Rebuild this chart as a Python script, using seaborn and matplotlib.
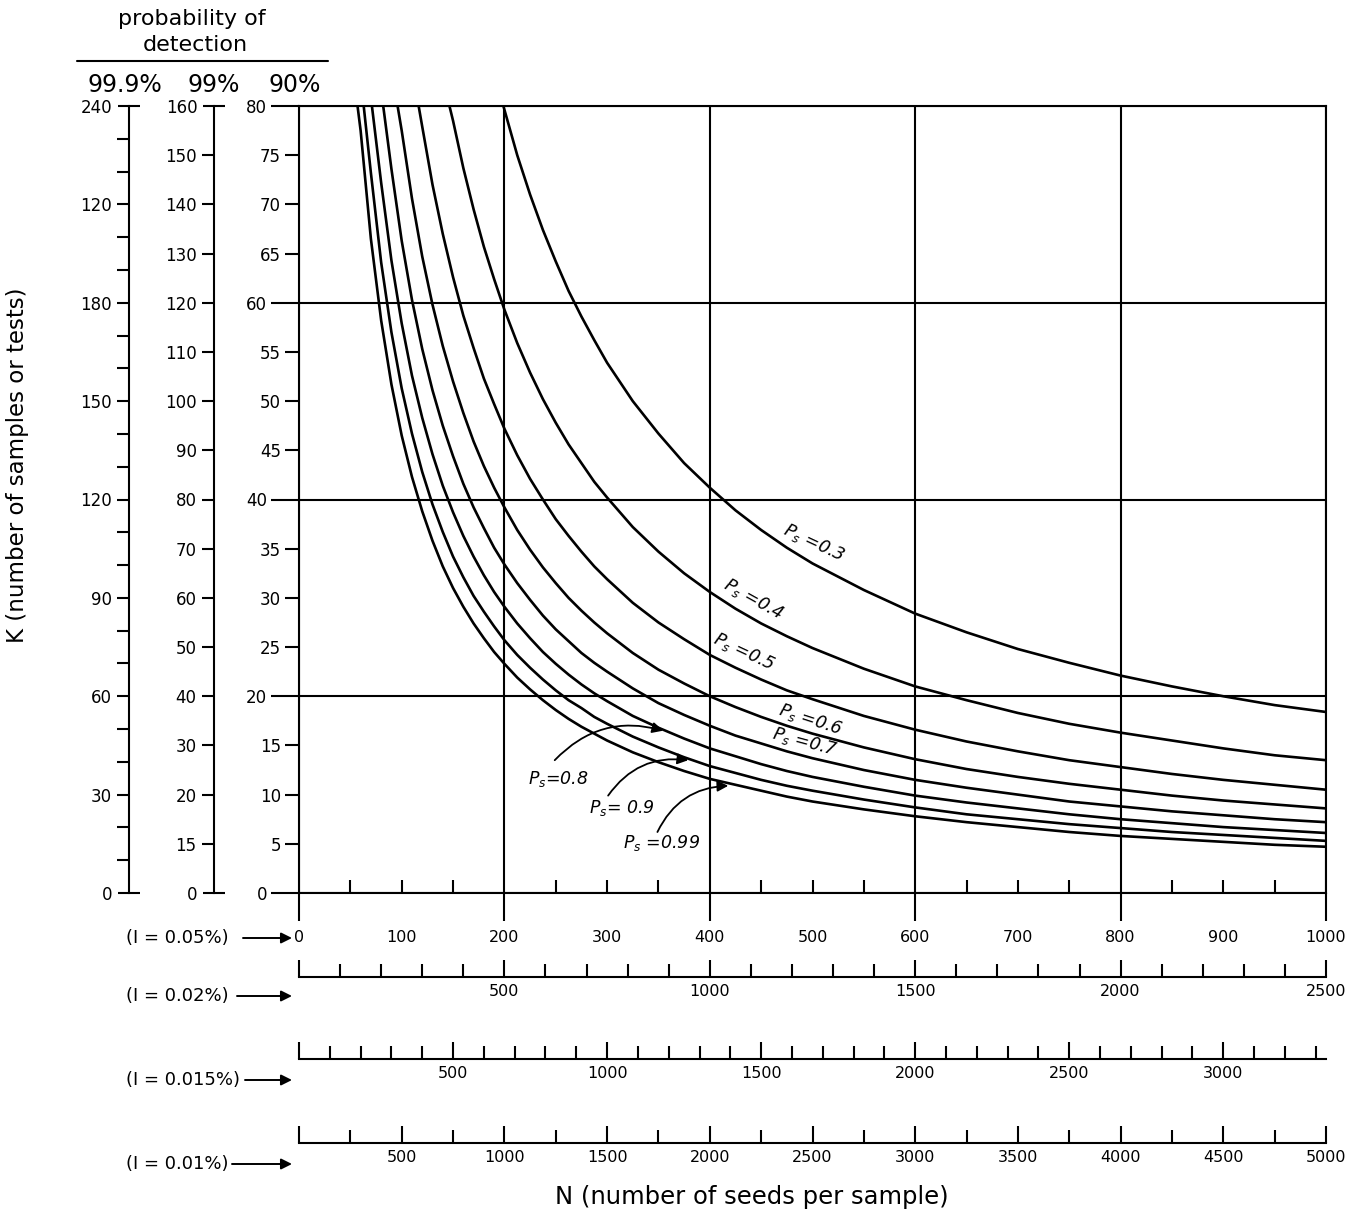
import numpy as np
import pandas as pd
import matplotlib
matplotlib.use("Agg")
import matplotlib.pyplot as plt
import seaborn as sns
from matplotlib.ticker import FixedLocator, FixedFormatter
from matplotlib.lines import Line2D
from matplotlib.patches import FancyArrowPatch

# ---------------- data ----------------
ps_labels = ["0.3", "0.4", "0.5", "0.6", "0.7", "0.8", "0.9", "0.99"]
n_grid = [60, 70, 80, 90, 100, 110, 120, 130, 140, 150, 160, 170, 180, 190, 200,
          212.5, 225, 237.5, 250, 262.5, 275, 287.5, 300, 325, 350, 375, 400,
          425, 450, 475, 500, 550, 600, 650, 700, 750, 800, 850, 900, 950, 1000]
# N where each curve enters the top of the chart (K = 80)
n_top = [199, 146.5, 116.5, 96, 82, 71, 63, 57]
k_top = 80
nan = np.nan
k_ps030 = [nan] * 15 + [75.0, 71.0, 67.4, 64.2, 61.2, 58.6, 56.2, 53.9, 50.0, 46.7, 43.7, 41.2,
                        38.9, 36.9, 35.1, 33.5, 30.8, 28.4, 26.5, 24.8, 23.4, 22.1, 21.0, 20.0, 19.1, 18.4]
k_ps040 = [nan] * 9 + [78.5, 73.7, 69.5, 65.7, 62.4, 59.3, 55.9, 52.9, 50.2, 47.8, 45.6, 43.7, 41.8,
                       40.2, 37.2, 34.7, 32.5, 30.6, 28.9, 27.4, 26.1, 24.9, 22.8, 21.0, 19.6, 18.3,
                       17.2, 16.3, 15.5, 14.7, 14.0, 13.5]
k_ps050 = [nan] * 6 + [77.9, 72.0, 67.0, 62.6, 58.7, 55.4, 52.3, 49.7, 47.2, 44.5, 42.1, 40.0, 38.0,
                       36.3, 34.7, 33.2, 31.9, 29.5, 27.5, 25.8, 24.2, 22.9, 21.7, 20.6, 19.7, 18.0,
                       16.6, 15.4, 14.4, 13.5, 12.8, 12.1, 11.5, 11.0, 10.5]
k_ps060 = [nan] * 4 + [77.5, 70.6, 64.7, 59.8, 55.6, 52.0, 48.8, 45.9, 43.4, 41.2, 39.2, 36.9, 34.9,
                       33.1, 31.5, 30.0, 28.7, 27.5, 26.4, 24.4, 22.7, 21.3, 20.0, 18.9, 17.9, 17.0,
                       16.2, 14.8, 13.6, 12.6, 11.8, 11.1, 10.5, 9.9, 9.4, 9.0, 8.6]
k_ps070 = [nan] * 3 + [73.6, 66.3, 60.3, 55.3, 51.1, 47.5, 44.4, 41.6, 39.2, 37.1, 35.1, 33.4, 31.5,
                       29.8, 28.2, 26.8, 25.6, 24.4, 23.4, 22.5, 20.8, 19.3, 18.1, 17.0, 16.0, 15.2,
                       14.4, 13.7, 12.5, 11.5, 10.7, 10.0, 9.3, 8.8, 8.3, 7.9, 7.5, 7.2]
k_ps080 = [nan] * 2 + [72.2, 64.3, 57.9, 52.6, 48.3, 44.6, 41.4, 38.7, 36.3, 34.2, 32.3, 30.6, 29.1,
                       27.4, 25.9, 24.5, 23.3, 22.2, 21.2, 20.3, 19.5, 18.0, 16.8, 15.7, 14.7, 13.9,
                       13.1, 12.4, 11.8, 10.8, 9.9, 9.2, 8.6, 8.0, 7.5, 7.1, 6.7, 6.4, 6.1]
k_ps090 = [nan] * 1 + [73.2, 64.1, 57.0, 51.3, 46.7, 42.8, 39.5, 36.7, 34.2, 32.1, 30.2, 28.6, 27.1,
                       25.7, 24.2, 22.9, 21.7, 20.6, 19.6, 18.8, 17.9, 17.2, 15.9, 14.8, 13.8, 12.9,
                       12.2, 11.5, 10.9, 10.4, 9.5, 8.7, 8.0, 7.5, 7.0, 6.6, 6.2, 5.9, 5.6, 5.3]
k_ps099 = [77.5, 66.5, 58.2, 51.7, 46.5, 42.3, 38.8, 35.8, 33.2, 31.0, 29.1, 27.4, 25.9, 24.5, 23.3,
           21.9, 20.7, 19.6, 18.6, 17.7, 16.9, 16.2, 15.5, 14.3, 13.3, 12.4, 11.6, 11.0, 10.4, 9.8,
           9.3, 8.5, 7.8, 7.2, 6.7, 6.2, 5.8, 5.5, 5.2, 4.9, 4.7]
k_series = [k_ps030, k_ps040, k_ps050, k_ps060, k_ps070, k_ps080, k_ps090, k_ps099]

# axis scales / tick labels
k90_major = [5, 10, 15, 25, 30, 35, 45, 50, 55, 65, 70, 75]
k90_long = [0, 20, 40, 60, 80]
k99_ticks = list(range(10, 160, 10))
k99_labels = ["15" if v == 10 else str(v) for v in k99_ticks]
k999_ticks = list(range(10, 240, 10))
k999_labels = [("120" if v == 210 else str(v)) if v % 30 == 0 else "" for v in k999_ticks]
n_short = [v for v in range(50, 1000, 50) if v % 200 != 0]
n_long = [0, 200, 400, 600, 800, 1000]
row_names = ["(I = 0.05%)", "(I = 0.02%)", "(I = 0.015%)", "(I = 0.01%)"]
row2_major = [0, 500, 1000, 1500, 2000, 2500]
row3_major = [0, 500, 1000, 1500, 2000, 2500, 3000]
row4_major = [0, 500, 1000, 1500, 2000, 2500, 3000, 3500, 4000, 4500, 5000]

# long-form table
rows = []
for lab, nt, ks in zip(ps_labels, n_top, k_series):
    rows.append((lab, nt, k_top))
    for n, k in zip(n_grid, ks):
        if not np.isnan(k):
            rows.append((lab, n, k))
df = pd.DataFrame(rows, columns=["Ps", "N", "K"])

# ---------------- style ----------------
sns.set_style("white", {"axes.edgecolor": "black", "text.color": "black",
                        "xtick.color": "black", "ytick.color": "black",
                        "axes.labelcolor": "black"})
plt.rcParams["font.family"] = ["DejaVu Sans"]

W, H = 1362, 1212
fig = plt.figure(figsize=(W / 100, H / 100), dpi=100)
fig.patch.set_facecolor("white")


def fx(px):
    return px / W


def fy(py):
    return 1 - py / H


X0, X1, Y0, Y1 = 299, 1326, 893, 106
LW = 1.5

# ---------------- main axes ----------------
ax = fig.add_axes([fx(X0), fy(Y0), fx(X1) - fx(X0), fy(Y1) - fy(Y0)])
sns.lineplot(data=df, x="N", y="K", units="Ps", estimator=None, color="black",
             linewidth=1.9, ax=ax, legend=False)
ax.set_xlim(0, 1000)
ax.set_ylim(0, 80)
ax.set_xlabel("")
ax.set_ylabel("")
for s in ax.spines.values():
    s.set_visible(True)
    s.set_linewidth(LW)
    s.set_color("black")

ax.xaxis.set_major_locator(FixedLocator(n_short))
ax.xaxis.set_major_formatter(FixedFormatter([str(v) if v % 100 == 0 else "" for v in n_short]))
ax.xaxis.set_minor_locator(FixedLocator(n_long))
ax.xaxis.set_minor_formatter(FixedFormatter([str(v) for v in n_long]))
ax.tick_params(axis="x", which="major", direction="in", length=9.5, width=LW, pad=27, labelsize=11.5,
               bottom=True)
ax.tick_params(axis="x", which="minor", direction="out", length=20, width=LW, pad=7, labelsize=11.5,
               bottom=True)

ax.yaxis.set_major_locator(FixedLocator(k90_major))
ax.yaxis.set_major_formatter(FixedFormatter([str(v) for v in k90_major]))
ax.yaxis.set_minor_locator(FixedLocator(k90_long))
ax.yaxis.set_minor_formatter(FixedFormatter([str(v) for v in k90_long]))
ax.tick_params(axis="y", which="major", direction="out", length=10, width=LW, pad=3, labelsize=12,
               left=True)
ax.tick_params(axis="y", which="minor", direction="out", length=20, width=LW, pad=3, labelsize=12,
               left=True)
ax.grid(False)
ax.xaxis.grid(True, which="minor", color="black", linewidth=LW)
ax.yaxis.grid(True, which="minor", color="black", linewidth=LW)
ax.set_axisbelow(False)

# curve labels
lab_pos = {"0.3": (501.5, 35.6, -25), "0.4": (443, 29.9, -29), "0.5": (433, 24.5, -25),
           "0.6": (498.5, 17.6, -18), "0.7": (493, 15.3, -15)}
for lab, (xn, yk, rot) in lab_pos.items():
    ax.text(xn, yk, r"$P_s$" + " =" + lab, rotation=rot, ha="center", va="center",
            fontsize=12.5, style="italic", rotation_mode="anchor")

arrow_labels = {"0.8": ((252, 11.6), (249, 13.5), (354.6, 16.5), r"$P_s$" + "=0.8"),
                "0.9": ((314.5, 8.6), (301, 9.9), (379, 13.5), r"$P_s$" + "= 0.9"),
                "0.99": ((352.5, 5.1), (349, 6.2), (418, 10.9), r"$P_s$" + " =0.99")}
for lab, (tpos, tail, head, txt) in arrow_labels.items():
    ax.text(tpos[0], tpos[1], txt, ha="center", va="center", fontsize=12.5, style="italic")
    ax.annotate("", xy=head, xytext=tail,
                arrowprops=dict(arrowstyle="-|>", color="black", lw=1.3, mutation_scale=16,
                                connectionstyle="arc3,rad=-0.3", shrinkA=0, shrinkB=0))


# ---------------- secondary K scales ----------------
def k_axis(px, top, ticks, labels, end_labels):
    a = fig.add_axes([fx(px), fy(Y0), 1e-4, fy(Y1) - fy(Y0)])
    a.set_ylim(0, top)
    a.set_xlim(0, 1)
    a.patch.set_visible(False)
    for s in ["top", "right", "bottom"]:
        a.spines[s].set_visible(False)
    a.spines["left"].set_linewidth(LW)
    a.spines["left"].set_color("black")
    a.set_xticks([])
    a.yaxis.set_major_locator(FixedLocator(ticks))
    a.yaxis.set_major_formatter(FixedFormatter(labels))
    a.yaxis.set_minor_locator(FixedLocator([0, top]))
    a.yaxis.set_minor_formatter(FixedFormatter(end_labels))
    a.tick_params(axis="y", which="major", direction="out", length=8.5, width=LW, pad=4, labelsize=12,
                  left=True)
    a.tick_params(axis="y", which="minor", direction="inout", length=16, width=LW, pad=4, labelsize=12,
                  left=True)
    return a


k_axis(214, 160, k99_ticks, k99_labels, ["0", "160"])
k_axis(129, 240, k999_ticks, k999_labels, ["0", "240"])


# ---------------- additional N scales ----------------
def n_row(py, xmax, majors, minors):
    a = fig.add_axes([fx(X0), fy(py), fx(X1) - fx(X0), 1e-4])
    a.set_xlim(0, xmax)
    a.set_ylim(0, 1)
    a.patch.set_visible(False)
    for s in ["top", "right", "left"]:
        a.spines[s].set_visible(False)
    a.spines["bottom"].set_linewidth(LW)
    a.spines["bottom"].set_color("black")
    a.set_yticks([])
    a.xaxis.set_major_locator(FixedLocator(majors))
    a.xaxis.set_major_formatter(FixedFormatter(["" if v == 0 else str(v) for v in majors]))
    a.xaxis.set_minor_locator(FixedLocator(minors))
    a.tick_params(axis="x", which="major", direction="in", length=12, width=LW, pad=5, labelsize=11.5,
                  bottom=True)
    a.tick_params(axis="x", which="minor", direction="in", length=9.5, width=LW, bottom=True)
    return a


n_row(977, 2500, row2_major, list(range(100, 2500, 100)))
n_row(1059, 1000 / 0.3, row3_major, list(range(100, 3400, 100)))
n_row(1143, 5000, row4_major, list(range(250, 5000, 250)))

# row captions with arrows
for name, py, tail in zip(row_names, [938, 996, 1080, 1164], [243, 237, 245, 232]):
    fig.text(fx(126), fy(py), name, ha="left", va="center", fontsize=13)
    fig.add_artist(FancyArrowPatch((fx(tail), fy(py)), (fx(292), fy(py)), transform=fig.transFigure,
                                   arrowstyle="-|>", mutation_scale=16, lw=1.4, color="black",
                                   shrinkA=0, shrinkB=0))

# ---------------- titles ----------------
fig.text(fx(18), fy(465), "K (number of samples or tests)", rotation=90, ha="center", va="center",
         fontsize=16.5)
fig.text(fx(752), fy(1197), "N (number of seeds per sample)", ha="center", va="center", fontsize=17.5)
fig.text(fx(192), fy(19), "probability of", ha="center", va="center", fontsize=16)
fig.text(fx(195), fy(45), "detection", ha="center", va="center", fontsize=16)
fig.add_artist(Line2D([fx(77), fx(328)], [fy(61), fy(61)], transform=fig.transFigure,
                      color="black", lw=LW))
for txt, px in zip(["99.9%", "99%", "90%"], [125, 214, 295]):
    fig.text(fx(px), fy(85), txt, ha="center", va="center", fontsize=17)

fig.savefig("out.png", dpi=100, facecolor="white")
